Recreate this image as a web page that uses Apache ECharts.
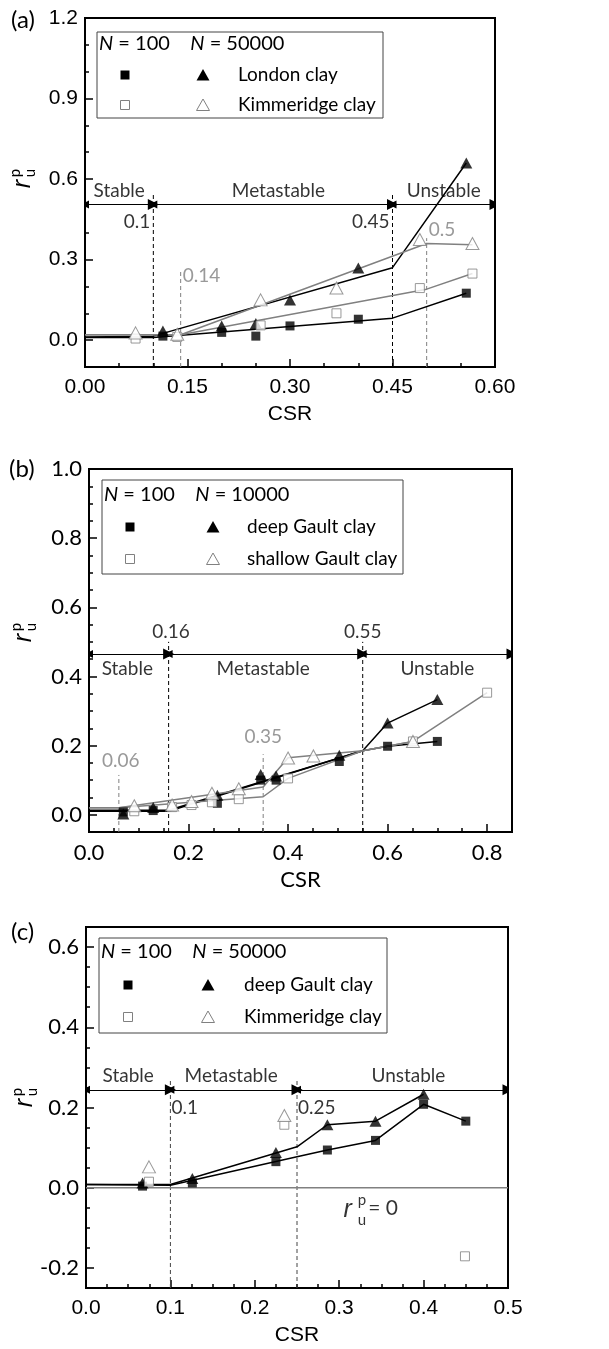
<!DOCTYPE html>
<html><head><meta charset="utf-8">
<script src="https://cdn.jsdelivr.net/npm/echarts@6/dist/echarts.min.js"></script>
<style>html,body{margin:0;padding:0;background:#fff}#c{width:609px;height:1349px}</style>
</head><body><div id="c"></div>
<script>
// ---------- Panel (a): London clay / Kimmeridge clay ----------
const aLondonN100   = [[0.114,0.015],[0.2,0.029],[0.25,0.015],[0.3,0.053],[0.4,0.078],[0.558,0.175]];
const aLondonN50000 = [[0.114,0.034],[0.2,0.053],[0.25,0.062],[0.3,0.15],[0.4,0.269],[0.558,0.66]];
const aKimmN100     = [[0.074,0.006],[0.135,0.012],[0.257,0.055],[0.368,0.10],[0.49,0.194],[0.567,0.248]];
const aKimmN50000   = [[0.074,0.027],[0.135,0.022],[0.257,0.15],[0.368,0.194],[0.49,0.375],[0.567,0.36]];
const aFitLondonN100   = [[0,0.01],[0.1,0.01],[0.45,0.082],[0.558,0.175]];
const aFitLondonN50000 = [[0,0.012],[0.1,0.015],[0.45,0.27],[0.558,0.66]];
const aFitKimmN100     = [[0,0.02],[0.14,0.02],[0.5,0.19],[0.567,0.248]];
const aFitKimmN50000   = [[0,0.02],[0.14,0.02],[0.5,0.36],[0.567,0.355]];
const aBlackThresholds = [0.1, 0.45];
const aGrayThresholds  = [0.14, 0.5];
const aXTicks = [0, 0.15, 0.30, 0.45, 0.60];
const aYTicks = [0, 0.3, 0.6, 0.9, 1.2];

// ---------- Panel (b): deep / shallow Gault clay ----------
const bDeepN100      = [[0.069,0.008],[0.129,0.012],[0.258,0.033],[0.345,0.10],[0.376,0.10],[0.503,0.154],[0.6,0.198],[0.7,0.212]];
const bDeepN10000    = [[0.069,0.002],[0.129,0.021],[0.258,0.056],[0.345,0.116],[0.376,0.112],[0.503,0.172],[0.6,0.265],[0.7,0.333]];
const bShallowN100   = [[0.091,0.01],[0.167,0.022],[0.206,0.028],[0.247,0.036],[0.301,0.045],[0.4,0.105],[0.651,0.212],[0.8,0.353]];
const bShallowN10000 = [[0.091,0.026],[0.167,0.028],[0.206,0.038],[0.247,0.062],[0.301,0.075],[0.4,0.164],[0.451,0.17],[0.651,0.212]];
const bFitDeepN100      = [[0,0.01],[0.16,0.01],[0.55,0.185],[0.6,0.198],[0.7,0.212]];
const bFitDeepN10000    = [[0,0.013],[0.16,0.013],[0.55,0.185],[0.6,0.265],[0.7,0.333]];
const bFitShallowN100   = [[0,0.02],[0.06,0.02],[0.35,0.052],[0.4,0.105],[0.55,0.185],[0.651,0.212],[0.8,0.353]];
const bFitShallowN10000 = [[0,0.02],[0.06,0.02],[0.35,0.08],[0.4,0.165],[0.55,0.185],[0.651,0.212]];
const bBlackThresholds = [0.16, 0.55];
const bGrayThresholds  = [0.06, 0.35];
const bXTicks = [0, 0.2, 0.4, 0.6, 0.8];
const bYTicks = [0, 0.2, 0.4, 0.6, 0.8, 1.0];

// ---------- Panel (c): deep Gault clay / Kimmeridge clay ----------
const cDeepN100   = [[0.067,0.004],[0.126,0.012],[0.225,0.065],[0.286,0.094],[0.343,0.118],[0.4,0.208],[0.45,0.166]];
const cDeepN50000 = [[0.067,0.012],[0.126,0.023],[0.225,0.088],[0.286,0.157],[0.343,0.166],[0.4,0.233]];
const cKimmN100   = [[0.0746,0.015],[0.235,0.157],[0.449,-0.171]];
const cKimmN50000 = [[0.0746,0.052],[0.235,0.18]];
const cFitDeepN100   = [[0,0.008],[0.1,0.006],[0.25,0.077],[0.286,0.094],[0.343,0.118],[0.4,0.208],[0.45,0.166]];
const cFitDeepN50000 = [[0,0.008],[0.1,0.008],[0.25,0.102],[0.286,0.157],[0.343,0.166],[0.4,0.233]];
const cZeroLine = [[0,0],[0.5,0]];
const cThresholds = [0.1, 0.25];
const cXTicks = [0, 0.1, 0.2, 0.3, 0.4, 0.5];
const cYTicks = [-0.2, 0, 0.2, 0.4, 0.6];

// ---------- styling helpers ----------
const GRAY = '#808080';
const ARIAL = 'Liberation Sans';
const CAL = 'Lato';
const TXT = 19;

function isMajor(v, list){ return list.some(t => Math.abs(t - v) < 1e-6); }
function fmt(list, dec){ return v => isMajor(v, list) ? v.toFixed(dec) : ''; }

function xAx(gi, min, max, minorStep, ticks, dec, font, size, nameGap, nameFont){
  return {type:'value', gridIndex:gi, min, max, interval:minorStep, position:'bottom',
    name:'CSR', nameLocation:'middle', nameGap,
    nameTextStyle:{fontFamily:nameFont, fontSize:size, color:'#000'},
    axisLine:{show:true, onZero:false, lineStyle:{color:'#000', width:2}},
    axisTick:{show:true, inside:true, length:4, lineStyle:{color:'#000', width:1.5}},
    axisLabel:{formatter:fmt(ticks, dec), fontFamily:font, fontSize:size, color:'#000', margin:10, showMinLabel:true, showMaxLabel:true},
    splitLine:{show:false}};
}
function xMajor(gi, min, max, ticks){
  return {type:'value', gridIndex:gi, min, max, position:'bottom',
    axisLine:{show:false, onZero:false},
    axisTick:{show:true, inside:true, length:8, customValues:ticks, lineStyle:{color:'#000', width:1.5}},
    axisLabel:{show:false}, splitLine:{show:false}};
}
function yAx(gi, min, max, minorStep, ticks, dec, font, size){
  return {type:'value', gridIndex:gi, min, max, interval:minorStep, position:'left',
    axisLine:{show:true, onZero:false, lineStyle:{color:'#000', width:2}},
    axisTick:{show:true, inside:true, length:4, lineStyle:{color:'#000', width:1.5}},
    axisLabel:{formatter:fmt(ticks, dec), fontFamily:font, fontSize:size, color:'#000', margin:7},
    splitLine:{show:false}};
}
function yMajor(gi, min, max, ticks){
  return {type:'value', gridIndex:gi, min, max, position:'left',
    axisLine:{show:false, onZero:false},
    axisTick:{show:true, inside:true, length:8, customValues:ticks, lineStyle:{color:'#000', width:1.5}},
    axisLabel:{show:false}, splitLine:{show:false}};
}

function fit(data, color, xi, yi){
  return {type:'line', xAxisIndex:xi, yAxisIndex:yi, data, symbol:'none', silent:true,
    lineStyle:{color, width:1.5}, z:2, animation:false};
}
function pts(data, kind, xi, yi){
  const filled = kind === 'sq' || kind === 'tri';
  const isTri = kind === 'tri' || kind === 'otri';
  return {type:'scatter', xAxisIndex:xi, yAxisIndex:yi, data,
    symbol: isTri ? 'triangle' : 'rect',
    symbolSize: isTri ? (filled ? [12,11] : [13,12]) : 9,
    itemStyle: filled ? {color:'#000'} : {color:'#fff', borderColor:GRAY, borderWidth:1},
    z: filled ? 3 : 4, silent:true, animation:false};
}
function vdash(x, y0, y1, color, xi, yi){
  return {type:'line', xAxisIndex:xi, yAxisIndex:yi, data:[[x,y0],[x,y1]], symbol:'none', silent:true,
    lineStyle:{color, width:1, type:[4,3]}, z:1, animation:false};
}
function arrows(segs, y, xi, yi){
  return {type:'lines', coordinateSystem:'cartesian2d', xAxisIndex:xi, yAxisIndex:yi,
    data: segs.map(s => ({coords:[[s[0],y],[s[1],y]]})),
    symbol:['triangle','triangle'], symbolSize:[8,11], symbolOffset:[[0,5],[0,5]],
    lineStyle:{color:'#000', width:1, opacity:1}, z:5, silent:true, animation:false};
}
function texts(items, xi, yi){
  return {type:'scatter', xAxisIndex:xi, yAxisIndex:yi, symbolSize:0, silent:true, z:6, animation:false,
    data: items.map(it => ({value:[it[0], it[1]], label:Object.assign({show:true, formatter:it[2],
      position:'inside', fontFamily:CAL, fontSize:TXT, color:'#000'}, it[3] || {})}))};
}

// ---------- annotation text (data coordinates) ----------
const aTexts = [
  [0.05,0.555,'Stable'],[0.283,0.555,'Metastable'],[0.525,0.555,'Unstable'],
  [0.1,0.44,'0.1',{position:'left', distance:3}],[0.45,0.44,'0.45',{position:'left', distance:3}],
  [0.14,0.24,'0.14',{position:'right', distance:2, color:GRAY}],[0.5,0.41,'0.5',{position:'right', distance:2, color:GRAY}]
];
const bTexts = [
  [0.077,0.423,'Stable'],[0.35,0.423,'Metastable'],[0.70,0.423,'Unstable'],
  [0.165,0.53,'0.16'],[0.55,0.53,'0.55'],
  [0.064,0.155,'0.06',{color:GRAY}],[0.35,0.225,'0.35',{color:GRAY}]
];
const cTexts = [
  [0.05,0.28,'Stable'],[0.172,0.28,'Metastable'],[0.382,0.28,'Unstable'],
  [0.1,0.2,'0.1',{position:'right', distance:1}],[0.25,0.2,'0.25',{position:'right', distance:1}],
  [0.31,-0.056,'r',{fontFamily:ARIAL, fontStyle:'italic', fontSize:25}],
  [0.327,-0.031,'p',{fontSize:15}],[0.327,-0.08,'u',{fontSize:15}],
  [0.352,-0.052,'= 0',{fontSize:21}]
];

// ---------- graphic helpers (legend boxes, panel letters, y names) ----------
function legendBox(x0, y0, w, h, hx, hy, c1, c2, tx, r1, r2, n2, name1, name2){
  const els = [];
  els.push({type:'rect', shape:{x:x0, y:y0, width:w, height:h}, style:{fill:'#fff', stroke:'#444', lineWidth:1}, z:10});
  els.push({type:'text', x:hx, y:hy, z:11, style:{text:'{i|N} = 100    {i|N} = ' + n2, fontFamily:CAL, fontSize:20, fill:'#000', verticalAlign:'middle',
    rich:{i:{fontFamily:CAL, fontStyle:'italic', fontSize:20}}}});
  const sq = (cx, cy, filled) => ({type:'rect', shape:{x:cx-4.5, y:cy-4.5, width:9, height:9}, z:11,
    style: filled ? {fill:'#000'} : {fill:'#fff', stroke:GRAY, lineWidth:1}});
  const tri = (cx, cy, filled) => ({type:'polygon', shape:{points:[[cx,cy-6],[cx+6.5,cy+5.5],[cx-6.5,cy+5.5]]}, z:11,
    style: filled ? {fill:'#000'} : {fill:'#fff', stroke:GRAY, lineWidth:1}});
  els.push(sq(c1, r1, true), tri(c2, r1, true), sq(c1, r2, false), tri(c2, r2, false));
  els.push({type:'text', x:tx, y:r1, z:11, style:{text:name1, fontFamily:CAL, fontSize:TXT, fill:'#000', verticalAlign:'middle'}});
  els.push({type:'text', x:tx, y:r2, z:11, style:{text:name2, fontFamily:CAL, fontSize:TXT, fill:'#000', verticalAlign:'middle'}});
  return els;
}
function yName(x, y){
  return {type:'group', x, y, rotation:Math.PI/2, z:11, children:[
    {type:'text', x:0, y:0, style:{text:'r', fontFamily:ARIAL, fontStyle:'italic', fontSize:25, fill:'#000', align:'center', verticalAlign:'middle'}},
    {type:'text', x:11, y:-8, style:{text:'p', fontFamily:CAL, fontSize:15, fill:'#000', align:'center', verticalAlign:'middle'}},
    {type:'text', x:11, y:7, style:{text:'u', fontFamily:CAL, fontSize:15, fill:'#000', align:'center', verticalAlign:'middle'}}
  ]};
}
function letter(x, y, t){
  return {type:'text', x, y, z:11, style:{text:t, fontFamily:CAL, fontSize:24, fill:'#000', verticalAlign:'middle'}};
}

const graphic = [].concat(
  legendBox(97, 32, 286, 86, 99, 44, 125, 203, 238, 75, 105, '50000', 'London clay', 'Kimmeridge clay'),
  legendBox(102, 480, 301, 94, 104, 495, 130, 213, 247, 527, 559, '10000', 'deep Gault clay', 'shallow Gault clay'),
  legendBox(99, 938, 288, 95, 101, 952, 128, 208, 244, 985, 1017, '50000', 'deep Gault clay', 'Kimmeridge clay'),
  [yName(23, 184), yName(24, 638), yName(25, 1103),
   letter(11, 20, '(a)'), letter(9, 469, '(b)'), letter(11, 932, '(c)')]
);

const option = {
  animation:false,
  backgroundColor:'#fff',
  grid:[
    {left:85, top:18, width:410, height:349, show:true, borderColor:'#000', borderWidth:2, backgroundColor:'transparent'},
    {left:89, top:469, width:423, height:363, show:true, borderColor:'#000', borderWidth:2, backgroundColor:'transparent'},
    {left:86, top:927, width:422, height:361, show:true, borderColor:'#000', borderWidth:2, backgroundColor:'transparent'}
  ],
  xAxis:[
    xAx(0, 0, 0.6, 0.05, aXTicks, 2, ARIAL, 21, 37, ARIAL),
    xAx(1, 0, 0.85, 0.05, bXTicks, 1, CAL, 22, 37, CAL),
    xAx(2, 0, 0.5, 0.025, cXTicks, 1, ARIAL, 21, 37, ARIAL),
    xMajor(0, 0, 0.6, aXTicks), xMajor(1, 0, 0.85, bXTicks), xMajor(2, 0, 0.5, cXTicks)
  ],
  yAxis:[
    yAx(0, -0.1, 1.2, 0.1, aYTicks, 1, ARIAL, 21),
    yAx(1, -0.05, 1.0, 0.05, bYTicks, 1, CAL, 22),
    yAx(2, -0.25, 0.65, 0.05, cYTicks, 1, CAL, 22),
    yMajor(0, -0.1, 1.2, aYTicks), yMajor(1, -0.05, 1.0, bYTicks), yMajor(2, -0.25, 0.65, cYTicks)
  ],
  series:[
    // (a)
    ...aBlackThresholds.map(x => vdash(x, -0.1, 0.55, '#000', 0, 0)),
    ...aGrayThresholds.map((x,i) => vdash(x, -0.1, [0.26,0.38][i], GRAY, 0, 0)),
    fit(aFitLondonN100, '#000', 0, 0), fit(aFitLondonN50000, '#000', 0, 0),
    fit(aFitKimmN100, GRAY, 0, 0), fit(aFitKimmN50000, GRAY, 0, 0),
    pts(aLondonN100, 'sq', 0, 0), pts(aLondonN50000, 'tri', 0, 0),
    pts(aKimmN100, 'osq', 0, 0), pts(aKimmN50000, 'otri', 0, 0),
    arrows([[0,0.1],[0.1,0.45],[0.45,0.6]], 0.505, 0, 0),
    texts(aTexts, 0, 0),
    // (b)
    ...bBlackThresholds.map(x => vdash(x, -0.05, 0.5, '#000', 1, 1)),
    ...bGrayThresholds.map((x,i) => vdash(x, -0.05, [0.115,0.175][i], GRAY, 1, 1)),
    fit(bFitDeepN100, '#000', 1, 1), fit(bFitDeepN10000, '#000', 1, 1),
    fit(bFitShallowN100, GRAY, 1, 1), fit(bFitShallowN10000, GRAY, 1, 1),
    pts(bDeepN100, 'sq', 1, 1), pts(bDeepN10000, 'tri', 1, 1),
    pts(bShallowN100, 'osq', 1, 1), pts(bShallowN10000, 'otri', 1, 1),
    arrows([[0,0.16],[0.16,0.55],[0.55,0.85]], 0.465, 1, 1),
    texts(bTexts, 1, 1),
    // (c)
    ...cThresholds.map(x => vdash(x, -0.25, 0.27, '#444', 2, 2)),
    fit(cZeroLine, GRAY, 2, 2),
    fit(cFitDeepN100, '#000', 2, 2), fit(cFitDeepN50000, '#000', 2, 2),
    pts(cDeepN100, 'sq', 2, 2), pts(cDeepN50000, 'tri', 2, 2),
    pts(cKimmN100, 'osq', 2, 2), pts(cKimmN50000, 'otri', 2, 2),
    arrows([[0,0.1],[0.1,0.25],[0.25,0.5]], 0.244, 2, 2),
    texts(cTexts, 2, 2)
  ],
  graphic
};
const chart = echarts.init(document.getElementById('c'));
chart.setOption(option);
</script>
</body></html>
